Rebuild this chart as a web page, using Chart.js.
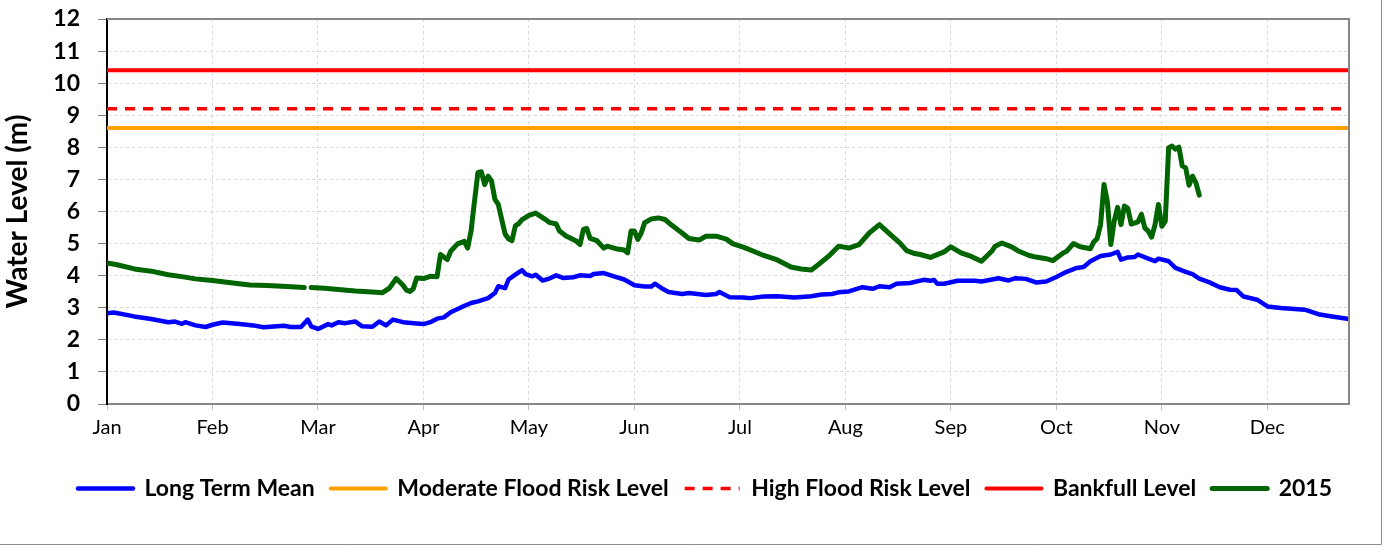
<!DOCTYPE html>
<html>
<head>
<meta charset="utf-8">
<script src="https://cdn.jsdelivr.net/npm/chart.js@4.4.0/dist/chart.umd.min.js"></script>
<style>
  html, body { margin: 0; padding: 0; background: #fff; }
  #wrap { width: 1389px; height: 554px; }
</style>
</head>
<body>
<div id="wrap"><canvas id="levelChart"></canvas></div>
<script>
// --- data (day of year -> water level in m) ---
const monthLabels = ['Jan', 'Feb', 'Mar', 'Apr', 'May', 'Jun', 'Jul', 'Aug', 'Sep', 'Oct', 'Nov', 'Dec'];

const meanDays = [0, 2, 8, 13, 18, 20, 22, 23, 26, 29, 31, 34, 39, 43, 46, 52, 54, 57, 59, 60,
  62, 65, 66, 68, 70, 73, 75, 78, 80, 82, 84, 87, 91, 93, 95, 97, 99, 101, 104, 107,
  109, 112, 114, 115, 117, 118, 120, 122, 123, 125, 126, 128, 130, 132, 134, 137, 139, 142, 143, 146,
  149, 152, 155, 158, 160, 161, 163, 165, 169, 171, 176, 179, 180, 182, 183, 187, 189, 193, 197, 202,
  207, 210, 213, 215, 218, 222, 225, 227, 230, 232, 236, 240, 242, 243, 244, 246, 250, 255, 257, 262,
  265, 267, 270, 273, 276, 279, 282, 285, 287, 289, 292, 295, 297, 298, 300, 302, 303, 306, 308, 309,
  312, 314, 317, 319, 321, 324, 327, 330, 332, 334, 338, 341, 345, 348, 352, 356, 360, 365];
const meanLevels = [2.83, 2.85, 2.73, 2.65, 2.55, 2.57, 2.50, 2.55, 2.45, 2.40, 2.47, 2.54, 2.49, 2.45, 2.39, 2.44, 2.40, 2.40, 2.63, 2.42,
  2.34, 2.49, 2.45, 2.55, 2.52, 2.57, 2.42, 2.41, 2.57, 2.45, 2.63, 2.55, 2.51, 2.49, 2.55, 2.66, 2.70, 2.86, 3.01, 3.15,
  3.20, 3.30, 3.46, 3.67, 3.61, 3.88, 4.03, 4.17, 4.05, 3.98, 4.03, 3.85, 3.91, 4.01, 3.93, 3.95, 4.01, 3.99, 4.05, 4.08,
  3.98, 3.88, 3.70, 3.66, 3.66, 3.75, 3.61, 3.49, 3.43, 3.46, 3.40, 3.43, 3.49, 3.38, 3.33, 3.32, 3.30, 3.35, 3.36, 3.32,
  3.36, 3.41, 3.43, 3.48, 3.51, 3.64, 3.59, 3.67, 3.64, 3.75, 3.77, 3.87, 3.84, 3.87, 3.75, 3.75, 3.84, 3.84, 3.82, 3.92,
  3.85, 3.92, 3.90, 3.79, 3.82, 3.96, 4.12, 4.24, 4.27, 4.45, 4.61, 4.66, 4.74, 4.50, 4.57, 4.58, 4.66, 4.53, 4.45, 4.53,
  4.45, 4.24, 4.12, 4.05, 3.91, 3.79, 3.64, 3.56, 3.55, 3.35, 3.25, 3.04, 2.99, 2.97, 2.94, 2.80, 2.73, 2.65];

const days2015 = [0, 3, 8, 13, 18, 22, 26, 31, 37, 42, 47, 53, 58, 59, 60, 64, 68, 73, 78, 81,
  83, 85, 87, 88, 89, 90, 91, 93, 95, 97, 98, 100, 101, 103, 105, 106, 107, 108, 109, 110,
  111, 112, 113, 114, 115, 116, 117, 118, 119, 120, 121, 122, 124, 126, 127, 129, 130, 132, 133, 135,
  136, 138, 139, 140, 141, 142, 144, 146, 147, 150, 152, 153, 154, 155, 156, 157, 158, 160, 162, 164,
  166, 169, 171, 174, 176, 179, 182, 184, 187, 190, 193, 197, 201, 204, 207, 209, 212, 215, 218, 221,
  224, 227, 230, 233, 235, 237, 239, 242, 246, 248, 251, 254, 257, 260, 261, 263, 266, 268, 271, 273,
  276, 278, 281, 282, 284, 286, 289, 290, 291, 292, 293, 294, 295, 296, 297, 298, 299, 300, 301, 303,
  304, 305, 306, 307, 308, 309, 310, 311, 312, 313, 314, 315, 316, 317, 318, 319, 320, 321];
const levels2015 = [4.40, 4.34, 4.21, 4.14, 4.03, 3.97, 3.90, 3.85, 3.77, 3.71, 3.69, 3.66, 3.63, null, 3.63, 3.61, 3.57, 3.52, 3.49, 3.47,
  3.61, 3.91, 3.70, 3.55, 3.51, 3.59, 3.93, 3.91, 3.98, 3.97, 4.66, 4.50, 4.76, 4.99, 5.07, 4.86, 5.40, 6.32, 7.21, 7.24,
  6.84, 7.10, 6.95, 6.38, 6.22, 5.75, 5.30, 5.15, 5.09, 5.55, 5.62, 5.75, 5.88, 5.95, 5.88, 5.74, 5.66, 5.61, 5.39, 5.23,
  5.18, 5.07, 4.97, 5.44, 5.47, 5.16, 5.09, 4.86, 4.92, 4.83, 4.80, 4.71, 5.39, 5.39, 5.13, 5.33, 5.65, 5.77, 5.80, 5.75,
  5.57, 5.33, 5.16, 5.11, 5.23, 5.23, 5.14, 4.99, 4.89, 4.76, 4.63, 4.49, 4.27, 4.21, 4.18, 4.34, 4.60, 4.92, 4.86, 4.97,
  5.33, 5.59, 5.30, 5.02, 4.78, 4.70, 4.66, 4.57, 4.74, 4.90, 4.71, 4.60, 4.45, 4.76, 4.92, 5.02, 4.89, 4.76, 4.63, 4.58,
  4.53, 4.47, 4.71, 4.76, 5.00, 4.90, 4.84, 5.05, 5.16, 5.60, 6.84, 6.30, 4.97, 5.70, 6.13, 5.59, 6.17, 6.10, 5.61, 5.68,
  5.91, 5.49, 5.39, 5.20, 5.59, 6.22, 5.54, 5.70, 7.99, 8.04, 7.94, 8.01, 7.42, 7.36, 6.82, 7.10, 6.90, 6.51];

const moderateLevel = 8.6;
const highLevel = 9.2;
const bankfullLevel = 10.4;
const yearEnd = 365;

function toPoints(days, vals) {
  return days.map((d, i) => ({ x: d, y: vals[i] }));
}
function flatLine(v) {
  return [{ x: 0, y: v }, { x: yearEnd, y: v }];
}

Chart.defaults.font.family = 'Lato';
Chart.defaults.color = '#000';

// gray frame on top/right of plot + outer chart border
const framePlugin = {
  id: 'frame',
  afterDatasetsDraw(chart) {
    const { ctx, chartArea: a } = chart;
    ctx.save();
    ctx.strokeStyle = '#868686';
    ctx.lineWidth = 2;
    ctx.beginPath();
    ctx.moveTo(a.left, a.top);
    ctx.lineTo(a.right, a.top);
    ctx.lineTo(a.right, a.bottom);
    ctx.stroke();
    ctx.restore();
  },
  afterDraw(chart) {
    const ctx = chart.ctx;
    ctx.save();
    ctx.strokeStyle = '#8c8c8c';
    ctx.lineWidth = 1;
    ctx.beginPath();
    ctx.moveTo(1381.5, 0);
    ctx.lineTo(1381.5, 544.5);
    ctx.lineTo(0, 544.5);
    ctx.stroke();
    ctx.restore();
  }
};

const lineBase = { pointRadius: 0, pointHoverRadius: 0, tension: 0, fill: false, borderCapStyle: 'round', borderJoinStyle: 'round' };

new Chart(document.getElementById('levelChart'), {
  type: 'line',
  data: {
    datasets: [
      Object.assign({ label: 'Long Term Mean', data: toPoints(meanDays, meanLevels), borderColor: '#0000ff', backgroundColor: '#0000ff', borderWidth: 4.5 }, lineBase),
      Object.assign({ label: 'Moderate Flood Risk Level', data: flatLine(moderateLevel), borderColor: '#ffa000', backgroundColor: '#ffa000', borderWidth: 4 }, lineBase),
      Object.assign({}, lineBase, { label: 'High Flood Risk Level', data: flatLine(highLevel), borderColor: '#ff0000', backgroundColor: '#ff0000', borderWidth: 3.5, borderDash: [10, 8], borderCapStyle: 'butt' }),
      Object.assign({ label: 'Bankfull Level', data: flatLine(bankfullLevel), borderColor: '#ff0000', backgroundColor: '#ff0000', borderWidth: 4 }, lineBase),
      Object.assign({ label: '2015', data: toPoints(days2015, levels2015), borderColor: '#006400', backgroundColor: '#006400', borderWidth: 5, spanGaps: false }, lineBase)
    ]
  },
  options: {
    responsive: true,
    maintainAspectRatio: false,
    animation: false,
    layout: { padding: { left: 21, right: 0, top: 19, bottom: 44 } },
    plugins: {
      tooltip: { enabled: false },
      legend: {
        position: 'bottom',
        labels: {
          usePointStyle: true,
          pointStyle: 'line',
          pointStyleWidth: 55,
          padding: 16,
          color: '#000',
          font: { size: 23, weight: 'bold' },
          generateLabels(chart) {
            // keep the dataset dash/width in the legend sample
            const items = Chart.defaults.plugins.legend.labels.generateLabels(chart);
            items.forEach(it => {
              const ds = chart.data.datasets[it.datasetIndex];
              it.lineDash = ds.borderDash || [];
              it.lineWidth = ds.borderWidth;
              it.lineCap = ds.borderCapStyle;
              it.strokeStyle = ds.borderColor;
            });
            return items;
          }
        }
      }
    },
    scales: {
      x: {
        type: 'linear',
        min: 0,
        max: yearEnd,
        afterFit(s) { s.height = 57; },
        ticks: {
          stepSize: 31,
          includeBounds: false,
          autoSkip: false,
          maxRotation: 0,
          padding: 6,
          font: { size: 20 },
          color: '#000',
          callback: v => (v % 31 === 0 ? monthLabels[v / 31] : '')
        },
        grid: { color: '#d9d9d9', tickColor: '#bfbfbf', tickLength: 6, tickBorderDash: [] },
        border: { color: '#868686', width: 2, dash: [3, 3] }
      },
      y: {
        min: 0,
        max: 12,
        afterFit(s) {
          s.width = 86;
          s.paddingTop = 0;
          s.paddingBottom = 0;
        },
        ticks: { stepSize: 1, padding: 18, font: { size: 23, weight: 'bold' }, color: '#000' },
        grid: { color: '#d9d9d9', tickColor: '#7f7f7f', tickLength: 9, tickBorderDash: [] },
        border: { color: '#000', width: 2, dash: [3, 3] },
        title: {
          display: true,
          text: 'Water Level (m)',
          font: { size: 28, weight: 'bold' },
          color: '#000',
          padding: { top: -20, bottom: 0 }
        }
      },
      yRight: {
        position: 'right',
        display: true,
        afterFit(s) { s.width = 40; },
        ticks: { display: false },
        grid: { display: false, drawTicks: false },
        border: { display: false }
      }
    }
  },
  plugins: [framePlugin]
});
</script>
</body>
</html>
